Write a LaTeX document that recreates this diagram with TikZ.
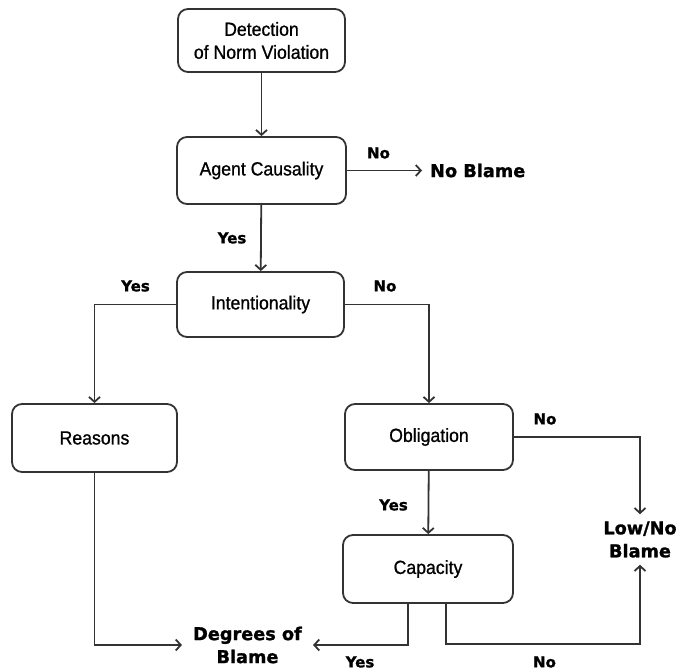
\documentclass[tikz,border=0pt]{standalone}
\usepackage{fontspec}
\setmainfont{Liberation Sans}[FakeStretch=0.93, FakeBold=0.9]
\newfontfamily\lblfont{DejaVu Sans}[FakeBold=1.2]
\usetikzlibrary{arrows.meta}
\begin{document}
\begin{tikzpicture}[x=1pt,y=-1pt,
  box/.style={draw=black!80, line width=1.8pt, rounded corners=10pt, minimum width=167pt, minimum height=66pt, inner sep=2pt, align=center, font=\fontsize{19}{23}\selectfont},
  arr/.style={draw=black!80, line width=1.8pt, -{Straight Barb[length=5pt,width=11pt,line width=1.8pt]}},
  yn/.style={font=\lblfont\bfseries\fontsize{15}{18}\selectfont, inner sep=0pt},
  res/.style={font=\lblfont\bfseries\fontsize{17.7}{23}\selectfont, align=center, inner xsep=11pt, inner ysep=7pt}]
\useasboundingbox (0,0) rectangle (678,671);
% boxes
\node[box, minimum height=63pt] (det) at (261.5,40.5) {Detection\\of Norm Violation};
\node[box, minimum width=169pt, minimum height=67pt] (ac) at (261.5,170.5) {Agent Causality};
\node[box, minimum height=65pt] (int) at (260.5,304.5) {Intentionality};
\node[box, minimum width=165pt, minimum height=68pt] (rea) at (94.5,438) {Reasons};
\node[box, minimum width=168pt] (obl) at (429,437) {Obligation};
\node[box, minimum width=170pt, minimum height=68pt] (cap) at (428,569) {Capacity};
% results
\node[res, anchor=west, inner xsep=8pt] (nb) at (422,170.5) {No Blame};
\node[res] (deg) at (247.5,645) {Degrees of\\Blame};
\node[res, inner xsep=0pt] (low) at (640,539.5) {Low/No\\Blame};
\coordinate (c1) at (640,644);
% connectors
\draw[arr] (det) -- (ac);
\draw[arr] (ac) -- (nb);
\draw[arr] (ac) -- (int);
\draw[arr] (int.west) -| (rea.north);
\draw[arr] (int.east) -| (obl.north);
\draw[arr] (obl) -- (cap);
\draw[arr] (obl.east) -| (low.north);
\draw[arr] (rea.south) |- (deg.west);
\draw[arr] ([xshift=-20pt]cap.south) |- (deg.east);
\draw[arr] ([xshift=18pt]cap.south) |- (c1) -- (low.south);
% labels
\node[yn] (l1) at (378.5,153) {No};
\node[yn] (l2) at (232,238) {Yes};
\node[yn] (l3) at (135.5,286) {Yes};
\node[yn] (l4) at (385,286) {No};
\node[yn] (l5) at (545,419) {No};
\node[yn] (l6) at (393.5,505) {Yes};
\node[yn] (l7) at (360,662) {Yes};
\node[yn] (l8) at (544.5,662) {No};
\end{tikzpicture}
\end{document}
